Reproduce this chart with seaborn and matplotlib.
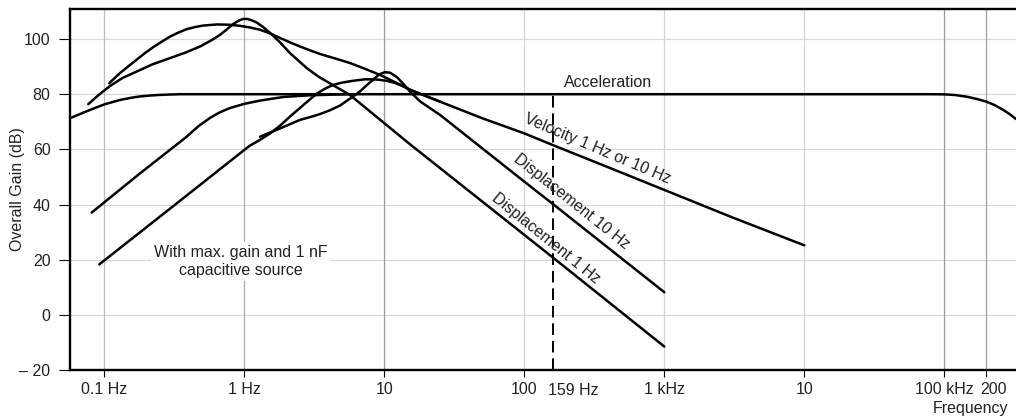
import matplotlib
matplotlib.use("Agg")
import matplotlib.pyplot as plt
import matplotlib.transforms as mtransforms
from matplotlib.ticker import NullLocator
import pandas as pd
import seaborn as sns

# ---- response curves: frequency (Hz) and overall gain (dB) ----
accel_f = [0.0569, 0.079, 0.1, 0.129, 0.155, 0.18, 0.21, 0.25, 0.3, 0.35, 0.5,
           1, 10, 100, 1000, 1e4, 5e4, 8e4, 1e5, 1.2e5, 1.445e5, 1.7e5, 2e5,
           2.3e5, 2.64e5, 3.0e5, 3.25e5]
accel_g = [71.3, 74.3, 76.3, 77.9, 78.7, 79.2, 79.5, 79.75, 79.9, 80.0, 80.0,
           80.0, 80.0, 80.0, 80.0, 80.0, 80.0, 80.0, 79.95, 79.7, 79.1, 78.3,
           77.3, 76.0, 74.3, 72.4, 71.0]

accel_hp_f = [0.0813, 0.18, 0.388, 0.47, 0.569, 0.66, 0.79, 1.0, 1.3, 1.9,
              2.9, 5.4]
accel_hp_g = [37.1, 51.3, 64.6, 68.4, 71.4, 73.3, 75.0, 76.5, 77.7, 79.0,
              79.6, 80.0]

vel1_f = [0.1086, 0.129, 0.150, 0.170, 0.195, 0.224, 0.26, 0.295, 0.34, 0.388,
          0.45, 0.509, 0.635, 0.78, 0.932, 1.1, 1.29, 1.52, 1.80, 2.12, 2.50,
          2.95, 3.47, 4.5, 5.69, 7.3, 9.32, 12.0, 15.3, 25, 50, 100, 159, 300,
          1000, 3000, 10000]
vel1_g = [84.0, 87.6, 90.3, 92.5, 94.9, 97.1, 99.2, 100.9, 102.4, 103.6,
          104.4, 104.9, 105.3, 105.2, 104.8, 104.2, 103.4, 102.1, 100.4, 98.8,
          97.3, 95.9, 94.6, 92.9, 91.3, 89.2, 87.0, 84.3, 81.6, 77.3, 71.3,
          65.8, 61.6, 56.0, 45.3, 35.5, 25.2]

vel10_f = [0.0921, 0.3, 1.0, 1.10, 1.3, 1.53, 1.8, 2.12, 2.7, 3.29, 3.8, 4.32,
           5.0, 5.69, 6.5, 7.28, 8.3, 9.32, 10.5, 11.9, 13.5, 15.3, 25]
vel10_g = [18.3, 38.8, 59.8, 61.4, 63.5, 65.8, 68.6, 71.9, 76.5, 80.2, 82.1,
           83.4, 84.2, 84.7, 85.1, 85.4, 85.4, 85.2, 84.8, 84.1, 83.0, 81.6,
           77.3]

disp1_f = [0.0769, 0.092, 0.110, 0.135, 0.170, 0.22, 0.295, 0.38, 0.483, 0.58,
           0.67, 0.75, 0.83, 0.92, 0.984, 1.05, 1.13, 1.227, 1.36, 1.53, 1.8,
           2.12, 2.79, 3.38, 5.69, 15.3, 21.2, 100, 159, 1000]
disp1_g = [76.4, 79.9, 83.0, 85.9, 88.2, 90.8, 93.1, 95.1, 97.3, 99.5, 101.5,
           103.5, 105.4, 106.8, 107.3, 107.3, 106.8, 106.0, 104.4, 102.2, 98.8,
           94.9, 89.5, 86.4, 79.7, 61.8, 56.1, 29.0, 20.9, -11.5]

disp10_f = [1.295, 1.8, 2.5, 3.0, 3.47, 4.1, 4.83, 5.69, 6.7, 7.5, 8.34, 9.2,
            10.1, 11.0, 12.3, 13.7, 15.3, 18.0, 25, 100, 159, 1000]
disp10_g = [64.6, 67.6, 70.7, 71.8, 72.8, 74.2, 75.9, 78.4, 81.0, 83.3, 85.3,
            87.2, 88.0, 87.8, 86.2, 83.7, 80.9, 77.4, 72.5, 48.3, 40.3, 8.2]

cursor_f = 159          # dashed marker frequency (Hz)

x_ticks = [0.1, 1, 10, 100, 1000, 1e4, 1e5, 2e5]
x_labels = ["0.1 Hz", "1 Hz", "10", "100", "1 kHz", "10", "100 kHz", "200"]
y_ticks = [-20, 0, 20, 40, 60, 80, 100]
y_labels = ["\u2013 20", "0", "20", "40", "60", "80", "100"]

curves = {
    "Acceleration": (accel_f, accel_g),
    "Acceleration HP": (accel_hp_f, accel_hp_g),
    "Velocity 1 Hz": (vel1_f, vel1_g),
    "Velocity 10 Hz": (vel10_f, vel10_g),
    "Displacement 1 Hz": (disp1_f, disp1_g),
    "Displacement 10 Hz": (disp10_f, disp10_g),
}
df = pd.concat(
    [pd.DataFrame({"freq": f, "gain": g, "curve": name})
     for name, (f, g) in curves.items()],
    ignore_index=True,
)

sns.set_theme(style="white")
plt.rcParams["font.family"] = ["Liberation Sans", "DejaVu Sans"]
FS = 11.5
plt.rcParams["font.size"] = FS
TXT = "#222222"

fig = plt.figure(figsize=(10.16, 4.18), dpi=100)
ax = fig.add_axes([70 / 1016, 48 / 418, 946 / 1016, 361 / 418])
ax.set_xscale("log")
ax.set_xlim(0.0569, 3.25e5)
ax.set_ylim(-20, 110.9)

# grid
for yv in y_ticks:
    ax.axhline(yv, color="#d9d9d9", lw=0.9, zorder=0)
vgrid_colors = ["#bdbdbd", "#adadad", "#9a9a9a", "#d4d4d4", "#d4d4d4",
                "#d4d4d4", "#9a9a9a", "#a0a0a0"]
for xv, c in zip(x_ticks, vgrid_colors):
    ax.axvline(xv, color=c, lw=0.9, zorder=0)

sns.lineplot(data=df, x="freq", y="gain", units="curve", estimator=None,
             sort=False, color="black", lw=1.8, legend=False, ax=ax, zorder=3)
for ln in ax.lines:
    ln.set_solid_joinstyle("round")
    ln.set_solid_capstyle("round")

ax.vlines(cursor_f, -20, 80, colors="black", lw=1.4,
          linestyles=(0, (6, 3)), zorder=3)

# axes styling
for side in ("left", "top", "bottom"):
    ax.spines[side].set_visible(True)
    ax.spines[side].set_color("black")
    ax.spines[side].set_linewidth(1.7)
ax.spines["right"].set_visible(False)

ax.set_xticks(x_ticks)
ax.set_xticklabels(x_labels)
ax.xaxis.set_minor_locator(NullLocator())
ax.set_yticks(y_ticks)
ax.set_yticklabels(y_labels)
ax.tick_params(axis="x", direction="out", length=5, width=0.8, pad=4,
               colors="black", labelcolor=TXT, labelsize=FS, bottom=True)
ax.tick_params(axis="y", direction="out", length=8, width=0.8, pad=6,
               colors="black", labelcolor=TXT, labelsize=FS, left=True)
ax.set_xlabel("")
ax.set_ylabel("Overall Gain (dB)", color=TXT, fontsize=FS)
ax.yaxis.set_label_coords(-0.048, 0.5)

# nudge the "200" label clear of "100 kHz"
lab200 = ax.get_xticklabels()[-1]
lab200.set_transform(lab200.get_transform() +
                     mtransforms.ScaledTranslation(7 / 100, 0, fig.dpi_scale_trans))

blend = mtransforms.blended_transform_factory(ax.transData, ax.transAxes)
ax.annotate("159 Hz", xy=(cursor_f, 0), xycoords=blend, xytext=(21, -12.6),
            textcoords="offset pixels", ha="center", va="top", color=TXT,
            fontsize=FS, annotation_clip=False)

# curve labels
ax.text(192, 84.3, "Acceleration", ha="left", va="center", color=TXT, fontsize=FS)
ax.text(331, 60.1, "Velocity 1 Hz or 10 Hz", ha="center", va="center",
        rotation=-23, rotation_mode="anchor", color=TXT, fontsize=FS)
ax.text(218, 40.9, "Displacement 10 Hz", ha="center", va="center",
        rotation=-38.5, rotation_mode="anchor", color=TXT, fontsize=FS)
ax.text(142, 27.6, "Displacement 1 Hz", ha="center", va="center",
        rotation=-39, rotation_mode="anchor", color=TXT, fontsize=FS)
ax.text(0.94, 19.4, "With max. gain and 1 nF\ncapacitive source", ha="center",
        va="center", multialignment="center", linespacing=1.25, color=TXT,
        fontsize=FS, zorder=4,
        bbox=dict(facecolor="white", edgecolor="none", pad=2))

fig.text(1008 / 1016, 1 - 408 / 418, "Frequency", ha="right", va="center",
         color=TXT, fontsize=FS)

fig.savefig("out.png", dpi=100)
